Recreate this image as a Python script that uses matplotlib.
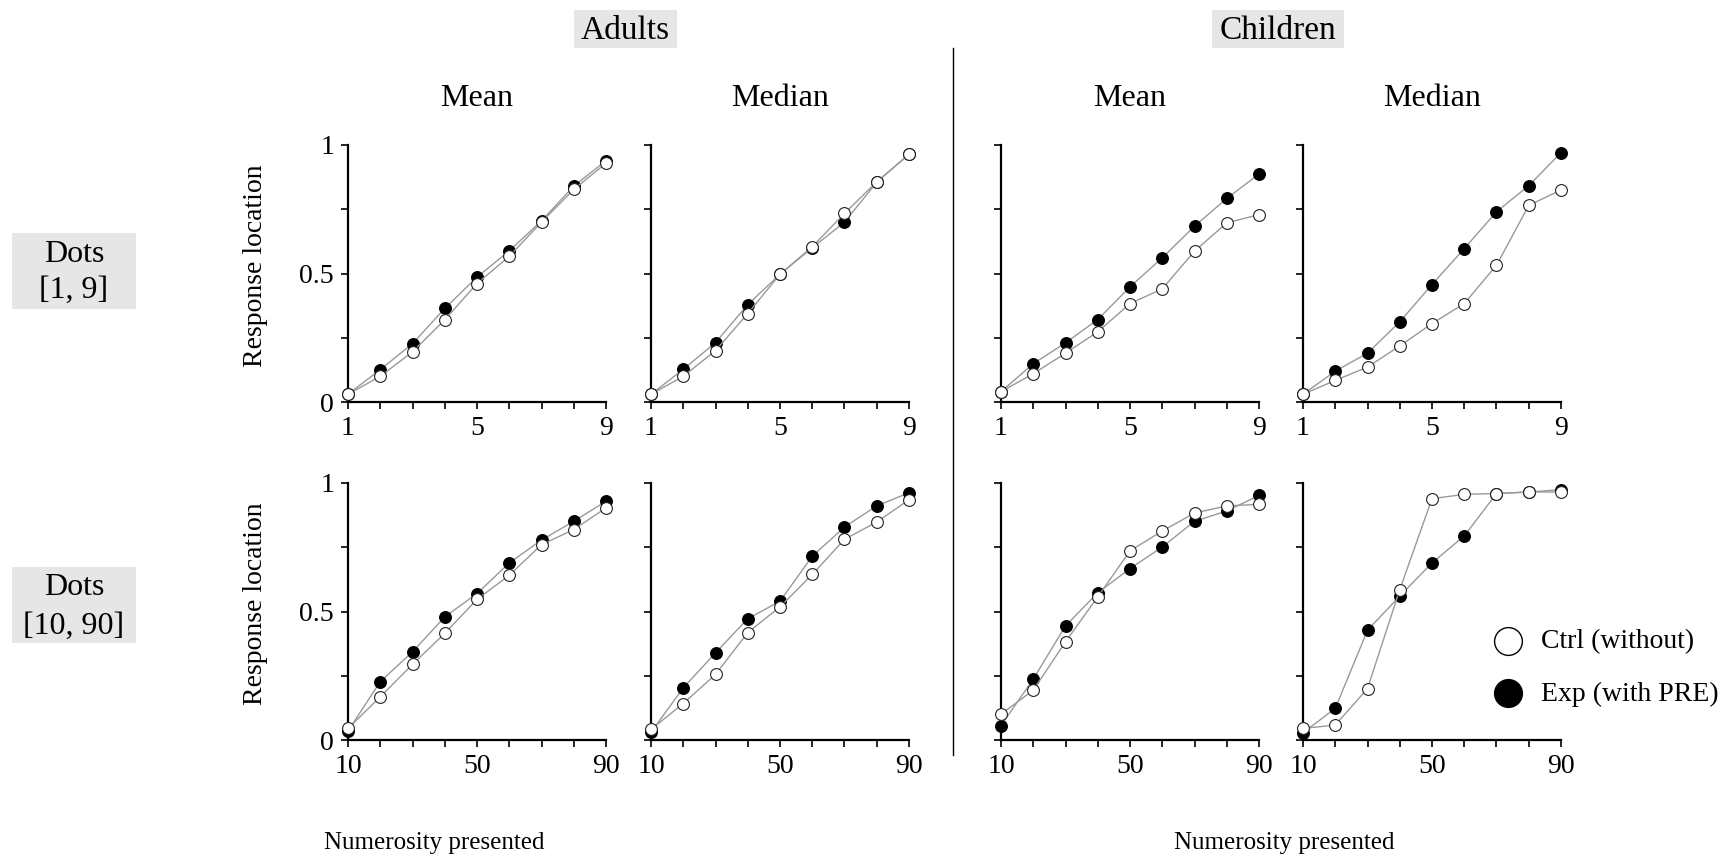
import matplotlib.pyplot as plt
from matplotlib.lines import Line2D
from matplotlib.patches import Rectangle

plt.rcParams['font.family'] = ['Liberation Serif', 'DejaVu Serif']

W, H = 1727, 857

x_small = [1, 2, 3, 4, 5, 6, 7, 8, 9]
x_large = [10, 20, 30, 40, 50, 60, 70, 80, 90]

# Dots [1, 9]
adult_mean_exp_small = [0.03, 0.126, 0.227, 0.364, 0.486, 0.588, 0.705, 0.84, 0.939]
adult_mean_ctrl_small = [0.03, 0.10, 0.195, 0.32, 0.461, 0.567, 0.70, 0.827, 0.929]
adult_median_exp_small = [0.03, 0.127, 0.231, 0.379, 0.497, 0.60, 0.70, 0.855, 0.964]
adult_median_ctrl_small = [0.03, 0.10, 0.20, 0.344, 0.497, 0.604, 0.734, 0.857, 0.964]
child_mean_exp_small = [0.04, 0.149, 0.23, 0.321, 0.448, 0.561, 0.684, 0.792, 0.887]
child_mean_ctrl_small = [0.04, 0.11, 0.19, 0.273, 0.383, 0.44, 0.587, 0.697, 0.729]
child_median_exp_small = [0.03, 0.12, 0.19, 0.312, 0.457, 0.597, 0.74, 0.842, 0.97]
child_median_ctrl_small = [0.03, 0.084, 0.136, 0.218, 0.305, 0.383, 0.532, 0.765, 0.825]

# Dots [10, 90]
adult_mean_exp_large = [0.035, 0.227, 0.343, 0.479, 0.57, 0.689, 0.778, 0.851, 0.929]
adult_mean_ctrl_large = [0.045, 0.168, 0.294, 0.415, 0.547, 0.641, 0.76, 0.819, 0.903]
adult_median_exp_large = [0.03, 0.203, 0.339, 0.472, 0.54, 0.715, 0.829, 0.911, 0.962]
adult_median_ctrl_large = [0.041, 0.142, 0.255, 0.418, 0.518, 0.644, 0.781, 0.848, 0.935]
child_mean_exp_large = [0.056, 0.237, 0.444, 0.573, 0.667, 0.751, 0.851, 0.891, 0.952]
child_mean_ctrl_large = [0.10, 0.194, 0.382, 0.557, 0.736, 0.813, 0.883, 0.911, 0.917]
child_median_exp_large = [0.028, 0.123, 0.427, 0.56, 0.689, 0.794, 0.959, 0.965, 0.974]
child_median_ctrl_large = [0.045, 0.058, 0.20, 0.585, 0.939, 0.956, 0.959, 0.965, 0.965]

rows = [
    (x_small, [(adult_mean_exp_small, adult_mean_ctrl_small),
               (adult_median_exp_small, adult_median_ctrl_small),
               (child_mean_exp_small, child_mean_ctrl_small),
               (child_median_exp_small, child_median_ctrl_small)]),
    (x_large, [(adult_mean_exp_large, adult_mean_ctrl_large),
               (adult_median_exp_large, adult_median_ctrl_large),
               (child_mean_exp_large, child_mean_ctrl_large),
               (child_median_exp_large, child_median_ctrl_large)]),
]

col_titles = ["Mean", "Median", "Mean", "Median"]
group_titles = ["Adults", "Children"]
row_titles = ["Dots\n[1, 9]", "Dots\n[10, 90]"]
legend_labels = ["Ctrl (without)", "Exp (with PRE)"]

# layout in pixels
col_x = [348, 651, 1001, 1303]
ax_w = 258
row_y = [(145, 402), (483, 740)]

fig = plt.figure(figsize=(W / 100, H / 100), dpi=100)


def fx(px):
    return px / W


def fy(py):
    return 1 - py / H


def gray_box(x0, y0, x1, y1):
    fig.add_artist(Rectangle((fx(x0), fy(y1)), (x1 - x0) / W, (y1 - y0) / H,
                             transform=fig.transFigure, facecolor="#e6e6e6",
                             edgecolor="none", zorder=0))


for r, (xs, pairs) in enumerate(rows):
    top, bot = row_y[r]
    for c, (exp, ctrl) in enumerate(pairs):
        ax = fig.add_axes([fx(col_x[c]), fy(bot), ax_w / W, (bot - top) / H])
        ax.plot(xs, exp, color="#999999", lw=1.0, marker="o", ms=8.5,
                mfc="black", mec="black", mew=0.8, clip_on=False, zorder=3)
        ax.plot(xs, ctrl, color="#999999", lw=1.0, marker="o", ms=8.5,
                mfc="white", mec="#222222", mew=0.8, clip_on=False, zorder=4)
        ax.set_xlim(xs[0], xs[-1])
        ax.set_ylim(0, 1)
        for s in ["top", "right"]:
            ax.spines[s].set_visible(False)
        for s in ["left", "bottom"]:
            ax.spines[s].set_linewidth(1.6)
        ax.set_xticks(xs)
        ax.set_xticklabels([str(v) if i in (0, 4, 8) else "" for i, v in enumerate(xs)])
        ax.set_yticks([0, 0.25, 0.5, 0.75, 1])
        if c == 0:
            ax.set_yticklabels(["0", "", "0.5", "", "1"])
            ax.set_ylabel("Response location", fontsize=20, va="center")
            ax.yaxis.set_label_coords(-93 / ax_w, 0.53)
        else:
            ax.set_yticklabels([])
        ax.tick_params(axis="both", direction="out", length=5, width=1.2,
                       labelsize=20, pad=5)
        if r == 0:
            ax.text(0.5, 1.0 + (top - 106) / (bot - top), col_titles[c],
                    transform=ax.transAxes, ha="center", va="baseline", fontsize=23)

# group headers
gray_box(574, 10, 677, 48)
fig.text(fx(625.5), fy(39), group_titles[0], ha="center", va="baseline", fontsize=24)
gray_box(1212, 10, 1344, 48)
fig.text(fx(1278), fy(39), group_titles[1], ha="center", va="baseline", fontsize=24)

# row headers
gray_box(12, 233, 136, 309)
fig.text(fx(74), fy(262), row_titles[0].split("\n")[0], ha="center", va="baseline", fontsize=23)
fig.text(fx(74), fy(298), row_titles[0].split("\n")[1], ha="center", va="baseline", fontsize=23)
gray_box(12, 567, 136, 643)
fig.text(fx(74), fy(595), row_titles[1].split("\n")[0], ha="center", va="baseline", fontsize=23)
fig.text(fx(74), fy(634), row_titles[1].split("\n")[1], ha="center", va="baseline", fontsize=23)

fig.text(fx(434), fy(843), "Numerosity presented", ha="center", va="center", fontsize=18)
fig.text(fx(1284), fy(843), "Numerosity presented", ha="center", va="center", fontsize=18)

fig.add_artist(Line2D([fx(953), fx(953)], [fy(48), fy(755)], color="black", lw=1.0))

# legend
for i, (label, face) in enumerate(zip(legend_labels, ["white", "black"])):
    yy = [641, 693][i]
    fig.add_artist(Line2D([fx(1508)], [fy(yy)], ls="none", marker="o", ms=20,
                          mfc=face, mec="black", mew=1.0))
    fig.text(fx(1541), fy(yy + 1), label, ha="left", va="center", fontsize=20)

fig.savefig("out.png", dpi=100, facecolor="white")
